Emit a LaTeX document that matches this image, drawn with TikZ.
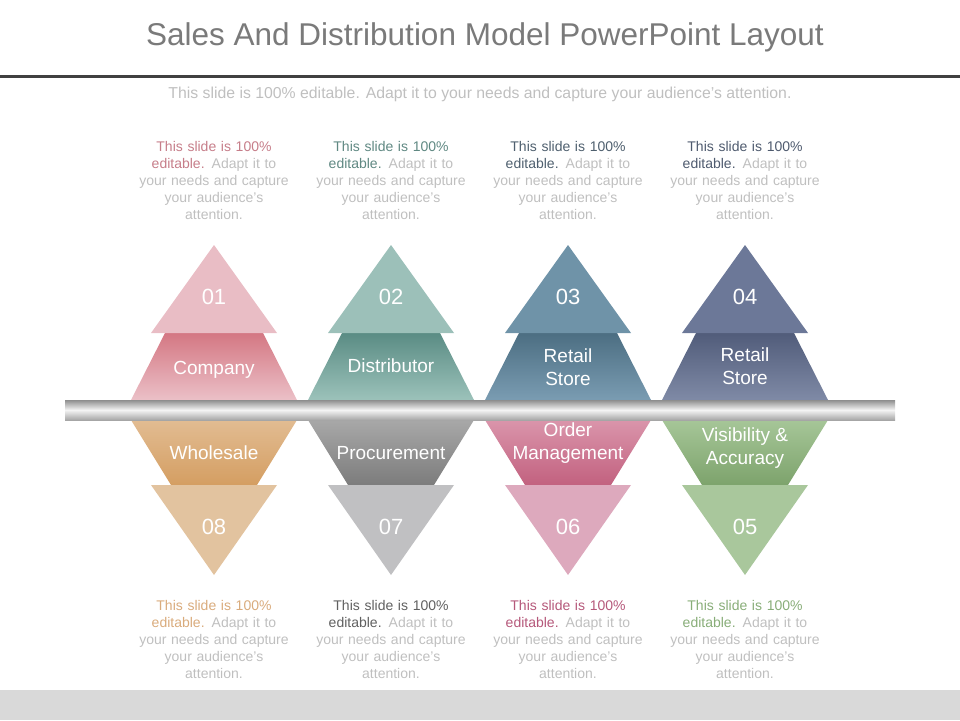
\documentclass[tikz,border=0pt]{standalone}
\usepackage{fontspec}
\setmainfont{Liberation Sans}
\usetikzlibrary{positioning}

\definecolor{titlegray}{HTML}{7A7A7A}
\definecolor{rulegray}{HTML}{404040}
\definecolor{descgray}{HTML}{BFBFBF}
\definecolor{bandgray}{HTML}{D9D9D9}
\definecolor{bardark}{HTML}{8E8E8E}
\definecolor{barlight}{HTML}{F4F4F4}
\definecolor{barbottom}{HTML}{A6A6A6}

\definecolor{pinktri}{HTML}{E9BDC5}
\definecolor{pinkdark}{HTML}{D47783}
\definecolor{pinklight}{HTML}{EBC0C7}
\definecolor{pinktext}{HTML}{C67D89}
\definecolor{tealtri}{HTML}{9CC0B9}
\definecolor{tealdark}{HTML}{5A8C84}
\definecolor{teallight}{HTML}{9CC2BA}
\definecolor{tealtext}{HTML}{5F8882}
\definecolor{steeltri}{HTML}{6F93A8}
\definecolor{steeldark}{HTML}{4C6E82}
\definecolor{steellight}{HTML}{7A9CB2}
\definecolor{steeltext}{HTML}{4E5F6E}
\definecolor{slatetri}{HTML}{6C7898}
\definecolor{slatedark}{HTML}{515C7A}
\definecolor{slatelight}{HTML}{7F8AA6}
\definecolor{slatetext}{HTML}{4E5A6E}

\definecolor{sandtri}{HTML}{E2C39F}
\definecolor{sandlight}{HTML}{E2BC92}
\definecolor{sanddark}{HTML}{D49E62}
\definecolor{sandtext}{HTML}{D9AB7C}
\definecolor{greytri}{HTML}{C0C0C2}
\definecolor{greylight}{HTML}{A8A8A8}
\definecolor{greydark}{HTML}{7C7C7C}
\definecolor{greytext}{HTML}{606060}
\definecolor{rosetri}{HTML}{DDA9BD}
\definecolor{roselight}{HTML}{DA95AB}
\definecolor{rosedark}{HTML}{C2617F}
\definecolor{rosetext}{HTML}{B5587A}
\definecolor{sagetri}{HTML}{A9C79C}
\definecolor{sagelight}{HTML}{A6C698}
\definecolor{sagedark}{HTML}{7DA36C}
\definecolor{sagetext}{HTML}{88AD78}

\newcommand\desctext[1]{\textcolor{#1}{This slide is 100\%}\\
  \textcolor{#1}{editable.} Adapt it to\\your needs and capture\\
  your audience's\\attention.}

\tikzset{
  num/.style={text=white, font=\fontsize{22}{24}\selectfont},
  lbl/.style={text=white, align=center, font=\fontsize{19}{23}\selectfont},
  desc/.style={text=descgray, align=center, text width=170pt, inner sep=0pt,
    font=\fontsize{14}{17}\selectfont}
}

\begin{document}
\begin{tikzpicture}[x=1pt, y=-1pt]
    \useasboundingbox (0, 0) rectangle (960, 720);
    \fill[bandgray] (0, 690) rectangle (960, 720);

    \node[text=titlegray, font=\fontsize{31.5}{34}\selectfont] (title) at (485, 37)
        {Sales And Distribution Model PowerPoint Layout};
    \coordinate (ruleL) at (0, 76);
    \coordinate (ruleR) at (960, 76);
    \draw[rulegray, line width=3pt] (ruleL) -- (ruleR);
    \node[text=descgray, font=\fontsize{15.8}{18}\selectfont] (subtitle) at (480, 94)
        {This slide is 100\% editable. Adapt it to your needs and capture your audience's attention.};

    \foreach \i/\cx/\n/\lab/\ly/\ct/\cd/\cl/\ctx in {
        1/214/01/Company/370/pinktri/pinkdark/pinklight/pinktext,
        2/391/02/Distributor/366/tealtri/tealdark/teallight/tealtext,
        3/568/03/{Retail\\Store}/367/steeltri/steeldark/steellight/steeltext,
        4/745/04/{Retail\\Store}/366/slatetri/slatedark/slatelight/slatetext} {
        \shade[top color=\cd, bottom color=\cl]
            (\cx-49, 333) -- (\cx+49, 333) -- (\cx+83, 400) -- (\cx-83, 400) -- cycle;
        \fill[\ct] (\cx, 245) -- (\cx+63, 333) -- (\cx-63, 333) -- cycle;
        \node[num] (upnum\i) at (\cx, 297) {\n};
        \node[lbl] (uplab\i) at (\cx, \ly) {\lab};
        \node[desc] (updesc\i) at (\cx, 180) {\desctext{\ctx}};
    }

    \foreach \i/\cx/\n/\lab/\ly/\ct/\cl/\cd/\ctx in {
        1/214/08/Wholesale/453/sandtri/sandlight/sanddark/sandtext,
        2/391/07/Procurement/453/greytri/greylight/greydark/greytext,
        3/568/06/{Order\\Management}/443/rosetri/roselight/rosedark/rosetext,
        4/745/05/{Visibility \&\\Accuracy}/448/sagetri/sagelight/sagedark/sagetext} {
        \shade[top color=\cl, bottom color=\cd]
            (\cx-83, 420) -- (\cx+83, 420) -- (\cx+43, 485) -- (\cx-43, 485) -- cycle;
        \fill[\ct] (\cx-63, 485) -- (\cx+63, 485) -- (\cx, 575) -- cycle;
        \node[num] (lownum\i) at (\cx, 527) {\n};
        \node[lbl] (lowlab\i) at (\cx, \ly) {\lab};
        \node[desc] (lowdesc\i) at (\cx, 639) {\desctext{\ctx}};
    }

    \shade[top color=bardark, bottom color=barbottom, middle color=barlight]
        (65, 400) rectangle (895, 420);
\end{tikzpicture}
\end{document}
